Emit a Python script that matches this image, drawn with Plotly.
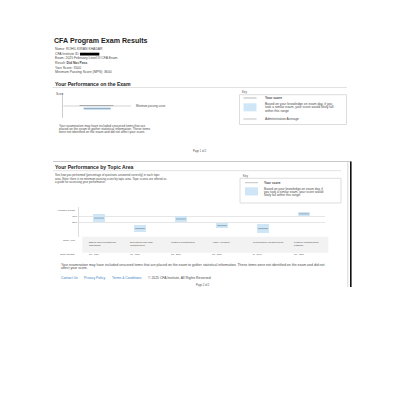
import plotly.graph_objects as go

W = H = 400
FONT = "Liberation Sans, Arial, sans-serif"


def X(px):
    return px / W


def Y(py):
    return 1 - py / H


# ---------------- data ----------------
exam_title = "CFA Program Exam Results"
info_lines = [
    "Name: ROHIL KIRAN KHADAR",
    "CFA Institute ID: ",
    "Exam: 2025 February Level III CFA Exam",
    "Result: <b>Did Not Pass</b>",
    "Your Score: 3500",
    "Minimum Passing Score (MPS): 3600",
]
mps = 3600
your_score = 3500
score_low = 3445
score_high = 3550
admin_avg = 3620
score_axis = [3120, 4120]

topics = [
    "Ethical and Professional<br>Standards",
    "Derivatives and Risk<br>Management",
    "Portfolio Construction",
    "Asset Allocation",
    "Performance Measurement",
    "Portfolio Management<br>Pathway",
]
topic_weights = ["10 - 15%", "10 - 15%", "15 - 20%", "15 - 20%", "5 - 10%", "30 - 35%"]
topic_low = [50, 17, 50, 30, 13, 70]
topic_high = [77, 40, 70, 47, 43, 83]
topic_score = [63, 28, 60, 38, 28, 77]
topic_tick_vals = [50, 70]
topic_tick_text = ["50%", "70%"]

BLUE = "#cfe6f6"
SCORE_LINE = "#7f9ab0"
TEXT = "#4a4a4a"

fig = go.Figure()

# ---------- page 1 score chart ----------
fig.add_trace(go.Bar(
    x=[0.5], y=[score_high - score_low], base=[score_low], width=0.4,
    marker=dict(color=BLUE, line=dict(width=0)), xaxis="x2", yaxis="y2",
    hoverinfo="skip", showlegend=False))
fig.add_trace(go.Scatter(
    x=[0, 1], y=[mps, mps], mode="lines", line=dict(color="#c8c8c8", width=0.8),
    xaxis="x2", yaxis="y2", hoverinfo="skip", showlegend=False))
fig.add_trace(go.Scatter(
    x=[0.24, 0.74], y=[admin_avg, admin_avg], mode="lines", line=dict(color="#9a9a9a", width=0.8),
    xaxis="x2", yaxis="y2", hoverinfo="skip", showlegend=False))
fig.add_trace(go.Scatter(
    x=[0.3, 0.7], y=[your_score, your_score], mode="lines", line=dict(color=SCORE_LINE, width=0.8),
    xaxis="x2", yaxis="y2", hoverinfo="skip", showlegend=False))

# ---------- page 2 topic chart ----------
idx = list(range(len(topics)))
fig.add_trace(go.Bar(
    x=idx, y=[h - l for h, l in zip(topic_high, topic_low)], base=topic_low, width=0.29,
    marker=dict(color=BLUE, line=dict(width=0)), xaxis="x3", yaxis="y3",
    hoverinfo="skip", showlegend=False))
sx, sy = [], []
for i, s in zip(idx, topic_score):
    sx += [i - 0.12, i + 0.12, None]
    sy += [s, s, None]
fig.add_trace(go.Scatter(
    x=sx, y=sy, mode="lines", line=dict(color=SCORE_LINE, width=0.8),
    xaxis="x3", yaxis="y3", hoverinfo="skip", showlegend=False))

ann = []


def txt(t, x, y, size=3.3, color=TEXT, anchor="left", bold=False, **kw):
    if bold:
        t = "<b>" + t + "</b>"
    ann.append(dict(text=t, x=X(x), y=Y(y), xref="paper", yref="paper",
                    xanchor=anchor, yanchor="middle", showarrow=False,
                    font=dict(size=size, color=color, family=FONT), align="left", **kw))


# page 1 text
txt(exam_title, 52, 41, size=7.1, color="#222", bold=True)
for k, line in enumerate(info_lines):
    txt(line, 52.5, 49 + k * 4.65, size=3.4)
txt("Your Performance on the Exam", 52.5, 84, size=5.1, color="#222", bold=True)
txt("Score", 53.5, 94.3, size=2.8)
ann.append(dict(text="Minimum passing score", x=1, y=mps, xref="x2", yref="y2",
                xanchor="left", yanchor="middle", xshift=3, showarrow=False,
                font=dict(size=2.8, color=TEXT, family=FONT)))
p1 = ["Your examination may have included unscored items that are",
      "placed on the exam to gather statistical information. These items",
      "were not identified on the exam and did not affect your score."]
for k, line in enumerate(p1):
    txt(line, 56.5, 125.7 + k * 3.1, size=3.2)
txt("Key", 240.5, 92, size=2.8)
txt("Your score", 262.5, 98, size=3.3, bold=True)
for k, line in enumerate(["Based on your knowledge on exam day, if you",
                          "took a similar exam, your score would likely fall",
                          "within this range"]):
    txt(line, 262.5, 104.3 + k * 3.1, size=3.3)
txt("Administration Average", 262.5, 119, size=3.3)
txt("Page 1 of 2", 200, 151, size=2.6, anchor="center")

# page 2 text
txt("Your Performance by Topic Area", 53, 167.3, size=5.1, color="#222", bold=True)
for k, line in enumerate(["See how you performed (percentage of questions answered correctly) in each topic",
                          "area. Note: there is no minimum passing score by topic area. Topic scores are offered as",
                          "a guide for assessing your performance."]):
    txt(line, 53, 175.3 + k * 3.3, size=2.85)
txt("Key", 241, 175.7, size=2.8)
txt("Your score", 261.7, 182.7, size=3.2, bold=True)
for k, line in enumerate(["Based on your knowledge on exam day, if",
                          "you took a similar exam, your score would",
                          "likely fall within this range."]):
    txt(line, 261.7, 189 + k * 3.1, size=3.2)
txt("Available Points", 77, 210.3, size=2.5, anchor="right")
txt("Topic Area", 76.5, 240.7, size=2.5, anchor="right")
txt("Topic Weight", 76.5, 254.3, size=2.5, anchor="right")
for i, (t, w) in enumerate(zip(topics, topic_weights)):
    ann.append(dict(text=t, x=i - 0.3, y=Y(240), xref="x3", yref="paper",
                    xanchor="left", yanchor="top", showarrow=False, align="left",
                    yshift=1.5, font=dict(size=2.5, color=TEXT, family=FONT)))
    ann.append(dict(text=w, x=i - 0.3, y=Y(254.3), xref="x3", yref="paper",
                    xanchor="left", yanchor="middle", showarrow=False,
                    font=dict(size=2.5, color=TEXT, family=FONT)))
for k, line in enumerate(["Your examination may have included unscored items that are placed on the exam to gather statistical information. These items were not identified on the exam and did not",
                          "affect your score."]):
    txt(line, 59, 265 + k * 3.4, size=3.5)
LINK = "#3b7fc4"
txt("Contact Us", 59, 278.3, size=3.4, color=LINK)
txt("Privacy Policy", 82, 278.3, size=3.4, color=LINK)
txt("Terms &amp; Conditions", 110, 278.3, size=3.4, color=LINK)
txt("© 2025 CFA Institute. All Rights Reserved.", 146, 278.3, size=3.4)
txt("Page 2 of 2", 203, 285, size=2.6, anchor="center")

shapes = []


def rect(x0, y0, x1, y1, fill=None, line=None, lw=0.6):
    shapes.append(dict(type="rect", xref="paper", yref="paper",
                       x0=X(x0), x1=X(x1), y0=Y(y1), y1=Y(y0),
                       fillcolor=fill if fill else "rgba(0,0,0,0)",
                       line=dict(color=line if line else "rgba(0,0,0,0)", width=lw if line else 0),
                       layer="below"))


def hline(x0, x1, y, color, lw=0.6):
    shapes.append(dict(type="line", xref="paper", yref="paper", x0=X(x0), x1=X(x1),
                       y0=Y(y), y1=Y(y), line=dict(color=color, width=lw)))


def vline(x, y0, y1, color, lw=0.6):
    shapes.append(dict(type="line", xref="paper", yref="paper", x0=X(x), x1=X(x),
                       y0=Y(y0), y1=Y(y1), line=dict(color=color, width=lw)))


# redaction
rect(80, 52.7, 99.3, 55.5, fill="#000000")
# page 1 underline and key
hline(52.5, 347, 87.5, "#d9d9d9", 0.8)
rect(239.5, 94.7, 346.5, 124.5, line="#cfcfcf", lw=0.7)
hline(243.5, 256.5, 98, "#9a9a9a", 0.7)
rect(243.5, 103.3, 256.5, 111.3, fill=BLUE)
hline(243.5, 256.5, 119, "#a8a8a8", 0.7)
# page 2 frame
hline(53, 351, 161.5, "#bdbdbd", 0.8)
vline(347.8, 161.5, 287, "#bdbdbd", 0.6)
vline(350.8, 161.5, 287, "#111111", 1.6)
hline(53, 341, 170.7, "#d9d9d9", 0.8)
rect(240, 178.3, 341, 203, line="#cfcfcf", lw=0.7)
hline(245, 258, 182.7, "#a8a8a8", 0.7)
rect(245, 187.3, 258, 195.5, fill=BLUE)
rect(82.3, 236.7, 328.3, 252.7, fill="#f2f2f2")

fig.update_layout(
    width=W, height=H, margin=dict(l=0, r=0, t=0, b=0),
    paper_bgcolor="white", plot_bgcolor="rgba(0,0,0,0)",
    barmode="overlay", showlegend=False,
    annotations=ann, shapes=shapes,
    font=dict(family=FONT),
    xaxis=dict(visible=False, domain=[0, 0.01]),
    yaxis=dict(visible=False, domain=[0, 0.01]),
    xaxis2=dict(domain=[X(63.3), X(131)], range=[0, 1], anchor="y2",
                showgrid=False, zeroline=False, showticklabels=False, showline=False, fixedrange=True),
    yaxis2=dict(domain=[Y(118.3), Y(92.7)], range=score_axis, anchor="x2",
                showgrid=False, zeroline=False, showticklabels=False,
                showline=True, linecolor="#cccccc", linewidth=0.7, ticks="", fixedrange=True),
    xaxis3=dict(domain=[X(78.5), X(324.5)], range=[-0.5, 5.5], anchor="y3",
                showgrid=False, zeroline=False, showticklabels=False, showline=False, fixedrange=True),
    yaxis3=dict(domain=[Y(237), Y(207)], range=[0, 100], anchor="x3",
                showgrid=True, gridcolor="#e6e6e6", gridwidth=0.7, zeroline=False,
                tickvals=topic_tick_vals, ticktext=topic_tick_text, ticks="",
                tickfont=dict(size=2.5, color=TEXT, family=FONT),
                showline=True, linecolor="#dddddd", linewidth=0.7, fixedrange=True),
)

fig.write_html("out.html", config={"displayModeBar": False})
